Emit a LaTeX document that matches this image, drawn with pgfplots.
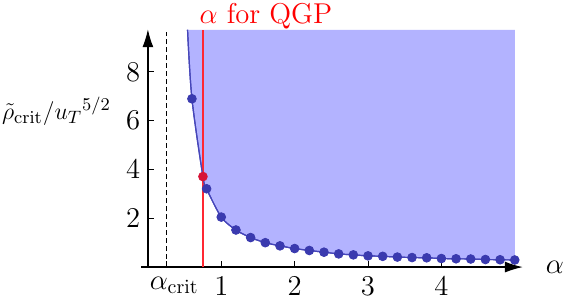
\documentclass[border=0pt,11pt]{standalone}
\usepackage{pgfplots}
\pgfplotsset{compat=1.18}
\usepgfplotslibrary{fillbetween}
\usetikzlibrary{arrows.meta}
\definecolor{fillblue}{RGB}{179,179,255}
\definecolor{ptblue}{RGB}{58,58,175}
\definecolor{lineblue}{RGB}{70,70,185}
\definecolor{ptred}{RGB}{215,20,55}
\definecolor{linered}{RGB}{255,40,50}
\begin{document}
\begin{tikzpicture}[font=\fontsize{14}{17}\selectfont]
\begin{axis}[
  x=36.85pt, y=12.25pt,
  axis lines=middle,
  xmin=-0.09, xmax=5.11, ymin=0, ymax=9.75,
  axis line style={line width=0.6pt,-{Latex[length=9pt,width=5.5pt]}},
  xtick={1,2,3,4}, ytick={2,4,6,8},
  extra x ticks={0.25}, extra x tick labels={$\alpha_{\mathrm{crit}}$},
  extra x tick style={xticklabel style={xshift=4pt}},
  tick align=inside, major tick length=3pt,
  tick style={black, line width=0.5pt},
  xticklabel style={yshift=-1pt},
  clip=false,
]
\path (axis cs:-2.016,-1.253) rectangle (axis cs:5.636,10.95);
\addplot[draw=none, name path=top, forget plot] coordinates {(0.54,9.73)(5.0,9.73)};
\addplot[lineblue, line width=0.6pt, smooth, name path=curve] coordinates {
(0.54,9.73)(0.6,6.9)(0.75,3.71)(0.8,3.21)(1.0,2.05)(1.2,1.52)(1.4,1.21)(1.6,1.00)(1.8,0.87)(2.0,0.76)(2.2,0.68)(2.4,0.61)(2.6,0.54)(2.8,0.50)(3.0,0.46)(3.2,0.44)(3.4,0.41)(3.6,0.39)(3.8,0.38)(4.0,0.35)(4.2,0.34)(4.4,0.33)(4.6,0.31)(4.8,0.30)(5.0,0.29)};
\addplot[fillblue, draw=none] fill between[of=top and curve];
\addplot[black, line width=0.5pt, dash pattern=on 2.5pt off 1.5pt] coordinates {(0.25,0)(0.25,9.65)};
\addplot[linered, line width=0.9pt] coordinates {(0.75,0)(0.75,9.73)};
\addplot[lineblue, line width=0.6pt, smooth] coordinates {
(0.54,9.73)(0.6,6.9)(0.75,3.71)(0.8,3.21)(1.0,2.05)(1.2,1.52)(1.4,1.21)(1.6,1.00)(1.8,0.87)(2.0,0.76)(2.2,0.68)(2.4,0.61)(2.6,0.54)(2.8,0.50)(3.0,0.46)(3.2,0.44)(3.4,0.41)(3.6,0.39)(3.8,0.38)(4.0,0.35)(4.2,0.34)(4.4,0.33)(4.6,0.31)(4.8,0.30)(5.0,0.29)};
\addplot[only marks, mark=*, mark size=2.2pt, ptblue, mark options={draw=ptblue, fill=ptblue}] coordinates {
(0.6,6.9)(0.8,3.21)(1.0,2.05)(1.2,1.52)(1.4,1.21)(1.6,1.00)(1.8,0.87)(2.0,0.76)(2.2,0.68)(2.4,0.61)(2.6,0.54)(2.8,0.50)(3.0,0.46)(3.2,0.44)(3.4,0.41)(3.6,0.39)(3.8,0.38)(4.0,0.35)(4.2,0.34)(4.4,0.33)(4.6,0.31)(4.8,0.30)(5.0,0.29)};
\addplot[only marks, mark=*, mark size=2.2pt, ptred, mark options={draw=ptred, fill=ptred}] coordinates {(0.75,3.71)};
\node[anchor=base east, inner sep=0pt, font=\fontsize{12.5}{15}\selectfont] at (axis cs:-0.50,6.05) {$\tilde{\rho}_{\mathrm{crit}}/{u_T}^{5/2}$};
\node[anchor=base west, inner sep=0pt, text=red] at (axis cs:0.70,9.97) {$\alpha\ \mathrm{for\ QGP}$};
\node[anchor=west, inner sep=0pt] at (axis cs:5.42,0) {$\alpha$};
\end{axis}
\end{tikzpicture}
\end{document}
